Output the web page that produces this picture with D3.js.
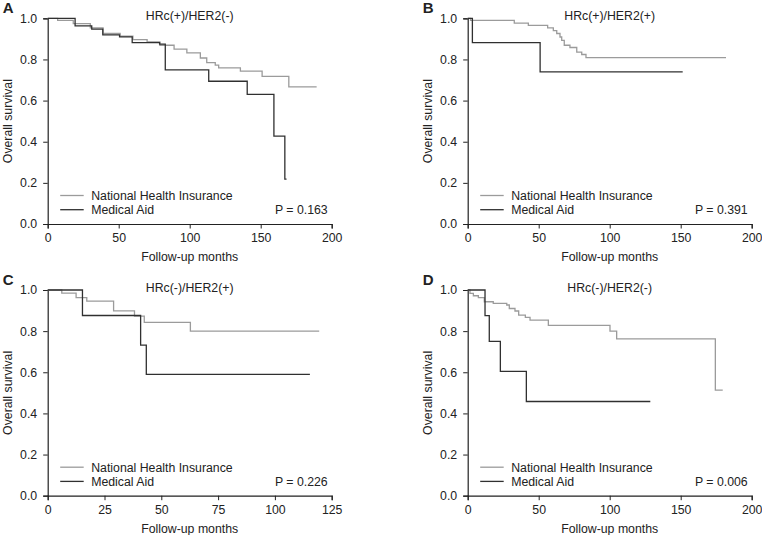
<!DOCTYPE html>
<html>
<head>
<meta charset="utf-8">
<script src="https://cdn.jsdelivr.net/npm/d3@7"></script>
<style>
  html, body { margin: 0; padding: 0; background: #fff; }
  svg { display: block; }
  text { font-family: "Liberation Sans", Arial, Helvetica, sans-serif; fill: #222; }
</style>
</head>
<body>
<svg id="chart" width="762" height="535"></svg>
<script>
// ---------- DATA (month, survival after event) ----------
const panelLetters = ["A", "B", "C", "D"];
const panelTitles = ["HRc(+)/HER2(-)", "HRc(+)/HER2(+)", "HRc(-)/HER2(+)", "HRc(-)/HER2(-)"];
const pValues = ["P = 0.163", "P = 0.391", "P = 0.226", "P = 0.006"];
const seriesNames = ["National Health Insurance", "Medical Aid"];
const xTicksLong = [0, 50, 100, 150, 200];
const xTicksShort = [0, 25, 50, 75, 100, 125];
const yTicks = [0, 0.2, 0.4, 0.6, 0.8, 1.0];

// Panel A
const aNHI = [[0,1],[7,0.99],[18,0.974],[30,0.953],[39,0.926],[51,0.913],[60,0.896],[70,0.885],[79,0.869],
  [89,0.85],[98,0.832],[107.5,0.807],[112,0.785],[118,0.772],[120.4,0.759],[135.7,0.743],[151,0.718],[169.8,0.667],[189.4,0.667]];
const aMA = [[0,1],[19.3,0.963],[31,0.947],[38.8,0.919],[50.6,0.91],[59.5,0.882],[78.8,0.874],[82.8,0.749],
  [113.4,0.694],[140.5,0.63],[159.3,0.427],[167,0.218],[168.2,0.218]];
// Panel B
const bNHI = [[0,1],[2,0.99],[32.8,0.977],[42.7,0.966],[56.3,0.953],[60.3,0.94],[62.7,0.926],[65,0.909],[66.2,0.893],
  [68,0.869],[72,0.858],[76.8,0.836],[80.3,0.824],[83.3,0.809],[181.9,0.809]];
const bMA = [[0,1],[3.3,0.882],[51,0.74],[151.4,0.74]];
// Panel C
const cNHI = [[0,1],[6.2,0.985],[12.5,0.963],[17.2,0.946],[29,0.899],[38.2,0.873],[42.5,0.843],[62.8,0.80],[119.5,0.80]];
const cMA = [[0,1],[15.3,0.876],[40.9,0.732],[43.4,0.59],[115.4,0.59]];
// Panel D
const dNHI = [[0,1],[1.6,0.984],[4,0.972],[7.5,0.963],[11.7,0.943],[18,0.935],[27.5,0.927],[29.3,0.91],[33.3,0.898],
  [35.9,0.878],[40.6,0.867],[43.9,0.854],[56.8,0.828],[100.2,0.80],[104.9,0.762],[174.4,0.513],[179.6,0.513]];
const dMA = [[0,1],[12.2,0.875],[15.2,0.75],[23,0.604],[41.3,0.458],[128.6,0.458]];

const nhiSeries = [aNHI, bNHI, cNHI, dNHI];
const maSeries = [aMA, bMA, cMA, dMA];
const xMaxes = [200, 200, 125, 200];
const xTickSets = [xTicksLong, xTicksLong, xTicksShort, xTicksLong];

// ---------- LAYOUT ----------
const plotLefts = [47.7, 467.7, 47.7, 467.7];
const plotWidth = 284;
const plotTops = [18.3, 18.3, 290, 290];
const plotHeight = 205.7;
const colors = ["#9b9b9b", "#303030"];
const fontSize = 12.3;

const svg = d3.select("#chart");

panelLetters.forEach((letter, i) => {
  const L = plotLefts[i], T = plotTops[i], R = L + plotWidth, B = T + plotHeight;
  const x = d3.scaleLinear().domain([0, xMaxes[i]]).range([L, R]);
  const y = d3.scaleLinear().domain([0, 1]).range([B, T]);
  const g = svg.append("g");

  // axes
  const ya = g.append("g").attr("transform", `translate(${L},0)`)
    .call(d3.axisLeft(y).tickValues(yTicks).tickFormat(d3.format(".1f")).tickSizeOuter(0).tickSize(4.5).tickPadding(6));
  const xa = g.append("g").attr("transform", `translate(0,${B})`)
    .call(d3.axisBottom(x).tickValues(xTickSets[i]).tickFormat(d3.format("d")).tickSizeOuter(0).tickSize(4.5).tickPadding(5));
  [ya, xa].forEach(a => {
    a.selectAll("path.domain").attr("stroke", "#222").attr("stroke-width", 1.2);
    a.selectAll(".tick line").attr("stroke", "#222").attr("stroke-width", 1);
    a.selectAll(".tick text").attr("font-size", fontSize).attr("fill", "#222")
      .style("font-family", '"Liberation Sans", Arial, sans-serif');
  });

  // curves
  const line = d3.line().x(d => x(d[0])).y(d => y(d[1])).curve(d3.curveStepAfter);
  [nhiSeries[i], maSeries[i]].forEach((s, k) => {
    g.append("path").datum(s).attr("d", line)
      .attr("fill", "none").attr("stroke", colors[k]).attr("stroke-width", 1.3);
  });

  // titles and labels
  g.append("text").attr("x", (L + R) / 2).attr("y", T + 1.5).attr("text-anchor", "middle")
    .attr("font-size", fontSize).text(panelTitles[i]);
  g.append("text").attr("x", L - 45).attr("y", T - 5.5)
    .attr("font-size", 15).attr("font-weight", "bold").text(letter);
  g.append("text").attr("transform", `translate(${L - 36},${(T + B) / 2}) rotate(-90)`)
    .attr("text-anchor", "middle").attr("font-size", fontSize).text("Overall survival");
  g.append("text").attr("x", (L + R) / 2).attr("y", B + 37).attr("text-anchor", "middle")
    .attr("font-size", fontSize).text("Follow-up months");

  // legend
  seriesNames.forEach((name, k) => {
    const cy = B - 28.5 + k * 14.2;
    g.append("line").attr("x1", L + 12.5).attr("x2", L + 36).attr("y1", cy).attr("y2", cy)
      .attr("stroke", colors[k]).attr("stroke-width", 1.3);
    g.append("text").attr("x", L + 43.5).attr("y", cy + 4.4).attr("font-size", fontSize).text(name);
  });
  g.append("text").attr("x", R - 4).attr("y", B - 14.3 + 4.4).attr("text-anchor", "end")
    .attr("font-size", fontSize).text(pValues[i]);
});
</script>
</body>
</html>
